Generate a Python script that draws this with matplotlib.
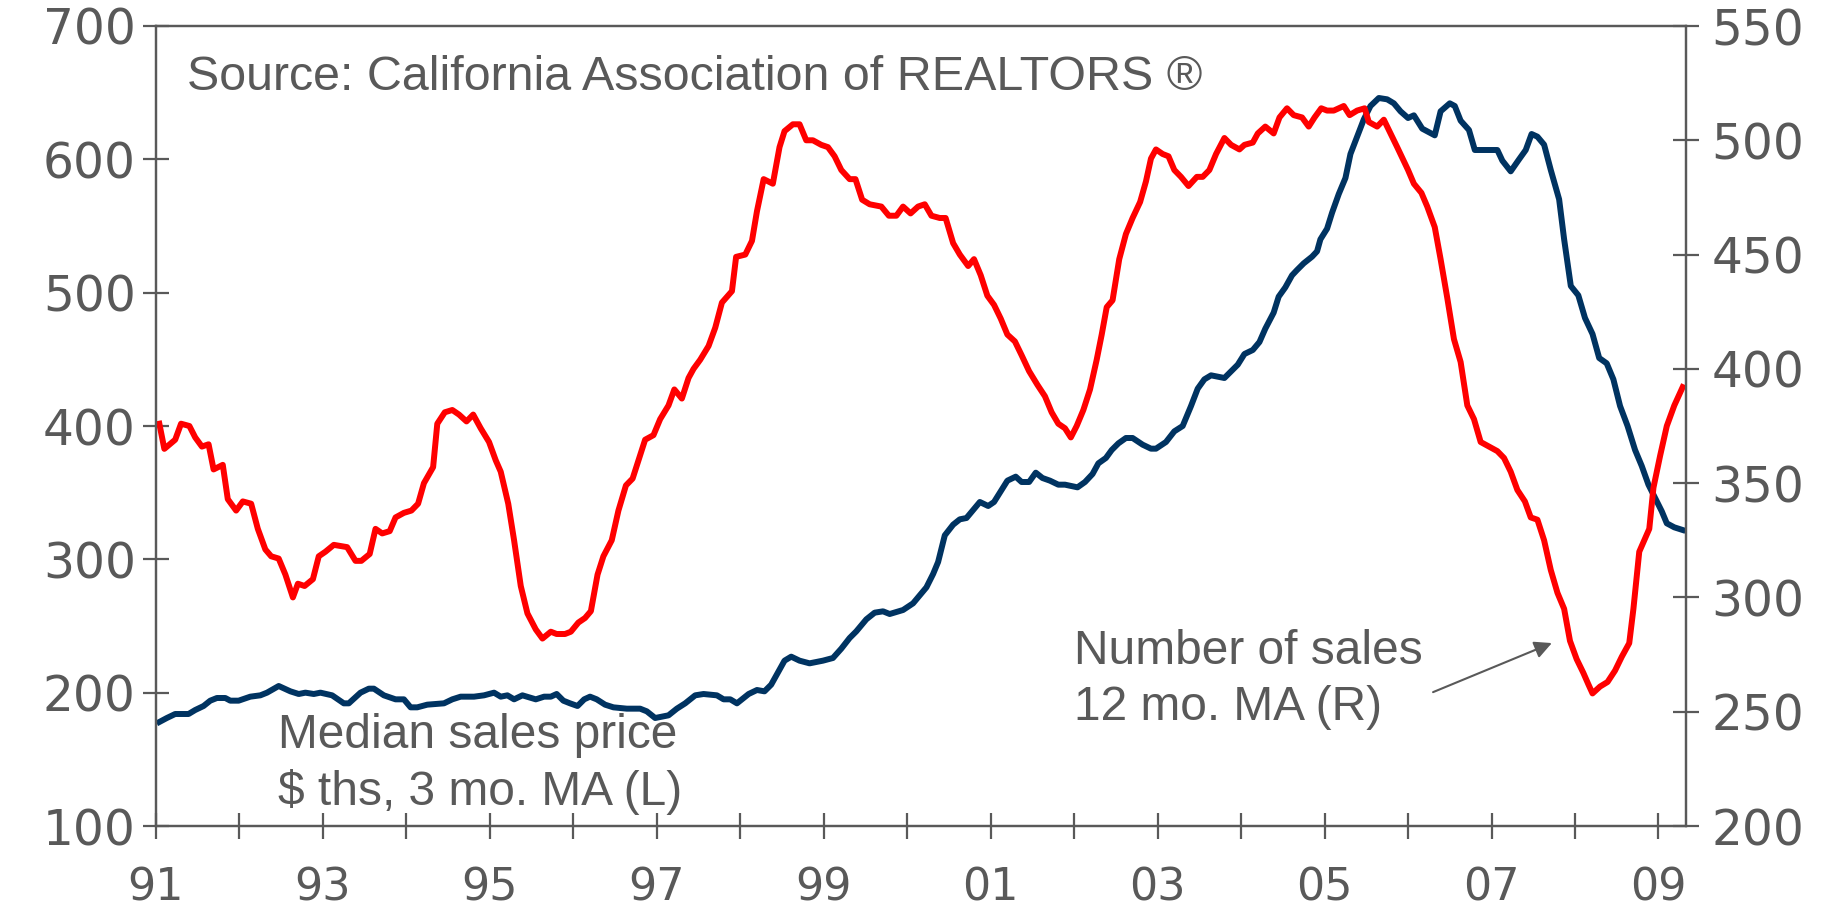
import matplotlib
matplotlib.use("Agg")
import matplotlib.pyplot as plt
from matplotlib.ticker import FixedLocator, FuncFormatter

# median sales price, $ ths, 3 mo. MA (left axis)
price_years = [1991.04, 1991.13, 1991.23, 1991.39, 1991.47, 1991.57, 1991.65, 1991.73, 1991.83, 1991.89,
               1991.99, 1992.13, 1992.25, 1992.33, 1992.47, 1992.61, 1992.71, 1992.79, 1992.89, 1992.97,
               1993.11, 1993.25, 1993.31, 1993.45, 1993.55, 1993.61, 1993.73, 1993.87, 1993.97, 1994.05,
               1994.13, 1994.25, 1994.45, 1994.55, 1994.65, 1994.81, 1994.93, 1995.05, 1995.13, 1995.21,
               1995.29, 1995.39, 1995.55, 1995.65, 1995.73, 1995.80, 1995.88, 1995.96, 1996.05, 1996.13,
               1996.20, 1996.28, 1996.38, 1996.48, 1996.64, 1996.80, 1996.88, 1996.98, 1997.14, 1997.24,
               1997.34, 1997.46, 1997.56, 1997.72, 1997.80, 1997.88, 1997.96, 1998.10, 1998.20, 1998.29,
               1998.37, 1998.45, 1998.53, 1998.61, 1998.71, 1998.83, 1998.99, 1999.11, 1999.21, 1999.31,
               1999.39, 1999.51, 1999.61, 1999.71, 1999.79, 1999.95, 2000.07, 2000.15, 2000.23, 2000.31,
               2000.37, 2000.45, 2000.55, 2000.63, 2000.71, 2000.79, 2000.87, 2000.97, 2001.04, 2001.11,
               2001.20, 2001.30, 2001.37, 2001.46, 2001.54, 2001.62, 2001.71, 2001.81, 2001.89, 2002.04,
               2002.13, 2002.22, 2002.29, 2002.38, 2002.45, 2002.53, 2002.62, 2002.70, 2002.82, 2002.92,
               2002.98, 2003.10, 2003.20, 2003.30, 2003.40, 2003.48, 2003.56, 2003.64, 2003.80, 2003.88,
               2003.96, 2004.04, 2004.14, 2004.22, 2004.29, 2004.39, 2004.45, 2004.53, 2004.61, 2004.67,
               2004.75, 2004.85, 2004.91, 2004.95, 2005.03, 2005.09, 2005.17, 2005.25, 2005.31, 2005.39,
               2005.47, 2005.55, 2005.65, 2005.75, 2005.83, 2005.91, 2006.00, 2006.07, 2006.17, 2006.32,
               2006.39, 2006.50, 2006.56, 2006.63, 2006.73, 2006.80, 2007.07, 2007.13, 2007.23, 2007.33,
               2007.41, 2007.48, 2007.55, 2007.63, 2007.71, 2007.81, 2007.87, 2007.95, 2008.04, 2008.12,
               2008.21, 2008.29, 2008.38, 2008.46, 2008.54, 2008.63, 2008.72, 2008.80, 2008.88, 2008.96,
               2009.04, 2009.10, 2009.19, 2009.29]
price_vals = [178, 181, 184, 184, 187, 190, 194, 196, 196, 194,
              194, 197, 198, 200, 205, 201, 199, 200, 199, 200,
              198, 192, 192, 200, 203, 203, 198, 195, 195, 189,
              189, 191, 192, 195, 197, 197, 198, 200, 197, 198,
              195, 198, 195, 197, 197, 199, 194, 192, 190, 195,
              197, 195, 191, 189, 188, 188, 186, 181, 183, 188,
              192, 198, 199, 198, 195, 195, 192, 199, 202, 201,
              206, 215, 224, 227, 224, 222, 224, 226, 233, 241,
              246, 255, 260, 261, 259, 262, 267, 273, 279, 289,
              298, 318, 326, 330, 331, 337, 343, 340, 343, 350,
              359, 362, 358, 358, 365, 361, 359, 356, 356, 354,
              358, 364, 372, 376, 382, 387, 391, 391, 386, 383,
              383, 388, 396, 400, 415, 428, 435, 438, 436, 441,
              446, 454, 457, 463, 473, 485, 497, 504, 513, 517,
              522, 527, 531, 540, 548, 560, 574, 586, 604, 617,
              630, 640, 646, 645, 642, 636, 631, 633, 623, 618,
              636, 642, 640, 629, 622, 607, 607, 599, 591, 600,
              607, 619, 617, 611, 592, 570, 540, 505, 498, 481,
              469, 451, 447, 435, 415, 400, 382, 370, 356, 346,
              336, 327, 324, 322]

# number of sales, 12 mo. MA (right axis)
sales_years = [1991.04, 1991.10, 1991.23, 1991.30, 1991.40, 1991.47, 1991.55, 1991.63, 1991.69, 1991.80,
               1991.86, 1991.96, 1992.04, 1992.14, 1992.22, 1992.31, 1992.38, 1992.47, 1992.55, 1992.64,
               1992.70, 1992.78, 1992.88, 1992.95, 1993.03, 1993.13, 1993.29, 1993.39, 1993.46, 1993.56,
               1993.63, 1993.71, 1993.80, 1993.87, 1993.97, 1994.06, 1994.14, 1994.21, 1994.32, 1994.37,
               1994.46, 1994.55, 1994.63, 1994.72, 1994.80, 1994.89, 1994.99, 1995.07, 1995.13, 1995.22,
               1995.29, 1995.37, 1995.45, 1995.55, 1995.63, 1995.73, 1995.80, 1995.90, 1995.97, 1996.06,
               1996.14, 1996.21, 1996.29, 1996.36, 1996.46, 1996.54, 1996.63, 1996.71, 1996.78, 1996.86,
               1996.96, 1997.04, 1997.14, 1997.21, 1997.30, 1997.38, 1997.44, 1997.52, 1997.62, 1997.70,
               1997.78, 1997.90, 1997.95, 1998.06, 1998.14, 1998.20, 1998.28, 1998.39, 1998.47, 1998.53,
               1998.63, 1998.71, 1998.79, 1998.87, 1998.97, 1999.05, 1999.13, 1999.21, 1999.31, 1999.38,
               1999.46, 1999.55, 1999.69, 1999.78, 1999.87, 1999.95, 2000.04, 2000.13, 2000.21, 2000.29,
               2000.39, 2000.46, 2000.55, 2000.63, 2000.73, 2000.80, 2000.88, 2000.96, 2001.04, 2001.12,
               2001.20, 2001.29, 2001.37, 2001.46, 2001.56, 2001.65, 2001.73, 2001.81, 2001.89, 2001.96,
               2002.03, 2002.11, 2002.19, 2002.27, 2002.33, 2002.39, 2002.46, 2002.54, 2002.62, 2002.70,
               2002.79, 2002.86, 2002.92, 2002.98, 2003.06, 2003.13, 2003.20, 2003.28, 2003.37, 2003.47,
               2003.54, 2003.62, 2003.70, 2003.80, 2003.88, 2003.98, 2004.04, 2004.14, 2004.20, 2004.29,
               2004.39, 2004.46, 2004.55, 2004.63, 2004.73, 2004.81, 2004.88, 2004.96, 2005.03, 2005.11,
               2005.23, 2005.30, 2005.39, 2005.48, 2005.53, 2005.63, 2005.71, 2005.79, 2005.87, 2006.00,
               2006.07, 2006.16, 2006.23, 2006.32, 2006.39, 2006.47, 2006.55, 2006.63, 2006.71, 2006.79,
               2006.87, 2006.97, 2007.07, 2007.15, 2007.23, 2007.31, 2007.40, 2007.47, 2007.55, 2007.63,
               2007.71, 2007.79, 2007.87, 2007.94, 2008.02, 2008.10, 2008.16, 2008.21, 2008.30, 2008.39,
               2008.48, 2008.56, 2008.65, 2008.70, 2008.77, 2008.89, 2008.94, 2009.02, 2009.10, 2009.19,
               2009.29]
sales_vals = [376, 365, 369, 376, 375, 370, 366, 367, 356, 358,
              343, 338, 342, 341, 330, 321, 318, 317, 310, 300,
              306, 305, 308, 318, 320, 323, 322, 316, 316, 319,
              330, 328, 329, 335, 337, 338, 341, 350, 357, 376,
              381, 382, 380, 377, 380, 374, 368, 360, 355, 341,
              325, 305, 293, 286, 282, 285, 284, 284, 285, 289,
              291, 294, 310, 318, 325, 338, 349, 352, 360, 369,
              371, 378, 384, 391, 387, 396, 400, 404, 410, 418,
              429, 434, 449, 450, 456, 469, 483, 481, 497, 504,
              507, 507, 500, 500, 498, 497, 493, 487, 483, 483,
              474, 472, 471, 467, 467, 471, 468, 471, 472, 467,
              466, 466, 455, 450, 445, 448, 441, 432, 428, 422,
              415, 412, 406, 399, 393, 388, 381, 376, 374, 370,
              375, 382, 391, 404, 415, 427, 430, 448, 459, 466,
              473, 482, 492, 496, 494, 493, 487, 484, 480, 484,
              484, 487, 494, 501, 498, 496, 498, 499, 503, 506,
              503, 510, 514, 511, 510, 506, 510, 514, 513, 513,
              515, 511, 513, 514, 508, 506, 509, 503, 497, 487,
              481, 477, 471, 462, 448, 431, 413, 403, 384, 378,
              368, 366, 364, 361, 355, 347, 342, 335, 334, 325,
              312, 302, 295, 281, 273, 267, 262, 258, 261, 263,
              268, 274, 280, 295, 320, 330, 348, 362, 375, 384,
              392]

year_ticks = list(range(1991, 2010))
left_ticks = [100, 200, 300, 400, 500, 600, 700]
right_ticks = [200, 250, 300, 350, 400, 450, 500, 550]

grey = "#595959"
navy = "#003361"
red = "#ff0000"

plt.rcParams["font.family"] = ["Liberation Sans", "DejaVu Sans"]

fig = plt.figure(figsize=(18.36, 9.13), dpi=100)
ax = fig.add_axes([156 / 1836, 1 - 826 / 913, 1530 / 1836, 800 / 913])
ax2 = ax.twinx()

ax.plot(price_years, price_vals, color=navy, lw=4.3, solid_joinstyle="round")
ax2.plot(sales_years, sales_vals, color=red, lw=4.3, solid_joinstyle="round")

ax.set_xlim(1991, 2009.33)
ax.set_ylim(100, 700)
ax2.set_ylim(200, 550)

ax.xaxis.set_major_locator(FixedLocator(year_ticks))
ax.xaxis.set_major_formatter(FuncFormatter(lambda v, p: "%02d" % (int(round(v)) % 100) if int(round(v)) % 2 == 1 else ""))
ax.set_yticks(left_ticks)
ax2.set_yticks(right_ticks)

for a in (ax, ax2):
    for s in a.spines.values():
        s.set_color(grey)
        s.set_linewidth(1.6)
    a.tick_params(direction="inout", length=19, width=1.6, color=grey, labelcolor=grey)
ax.tick_params(axis="x", pad=20, labelsize=32)
ax.tick_params(axis="y", pad=5, labelsize=35)
ax2.tick_params(axis="y", pad=9, labelsize=35)
for lab in ax.get_xticklabels() + ax.get_yticklabels() + ax2.get_yticklabels():
    lab.set_family("DejaVu Sans")

ax.text(0.020, 0.936, "Source: California Association of REALTORS \u00ae", transform=ax.transAxes,
        fontsize=34.8, color=grey, ha="left", va="center")
ax.text(0.080, 0.077, "Median sales price\n$ ths, 3 mo. MA (L)", transform=ax.transAxes,
        fontsize=34.5, color=grey, ha="left", va="center", linespacing=1.3)
ax.text(0.600, 0.183, "Number of sales\n12 mo. MA (R)", transform=ax.transAxes,
        fontsize=34.5, color=grey, ha="left", va="center", linespacing=1.3)
ax.annotate("", xy=(0.914, 0.230), xytext=(0.833, 0.166), xycoords="axes fraction",
            arrowprops=dict(arrowstyle="-|>", color=grey, lw=1.5, mutation_scale=26))

fig.savefig("out.png", dpi=100)
